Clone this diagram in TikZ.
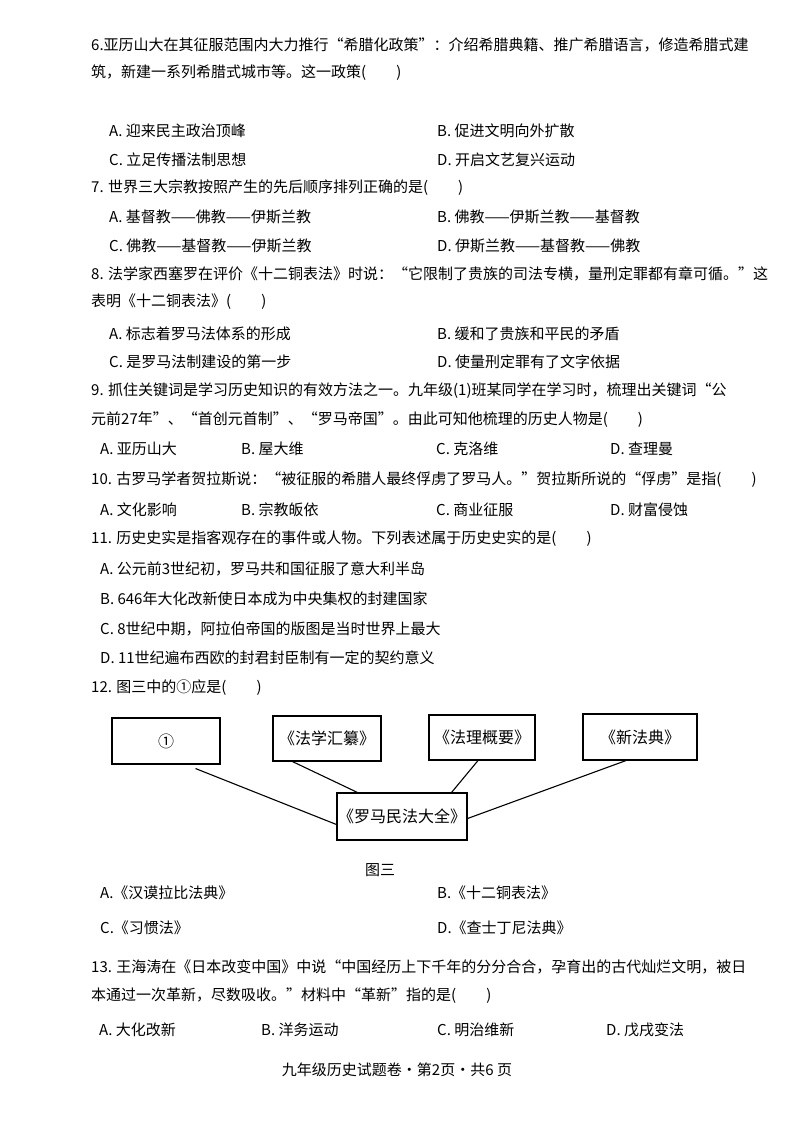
\documentclass[tikz,border=0pt]{standalone}
\usepackage{fontspec}
\setmainfont{Noto Sans CJK SC}
\begin{document}
\begin{tikzpicture}[x=1pt,y=-1pt,
  t/.style={anchor=west,inner sep=0pt,font=\fontsize{15}{15}\selectfont},
  bx/.style={draw,line width=1.1pt,inner sep=0pt,font=\fontsize{16}{16}\selectfont},
  ln/.style={line width=1.1pt}]
\useasboundingbox[fill=white] (0,0) rectangle (794,1124);
\node[t] (q6a) at (91,45) {6.亚历山大在其征服范围内大力推行“希腊化政策”：介绍希腊典籍、推广希腊语言，修造希腊式建};
\node[t] (q6b) at (91,73) {筑，新建一系列希腊式城市等。这一政策(\hspace{2em})};
\node[t] (q6A) at (109,131) {A. 迎来民主政治顶峰};
\node[t] (q6B) at (437,131) {B. 促进文明向外扩散};
\node[t] (q6C) at (109,160) {C. 立足传播法制思想};
\node[t] (q6D) at (437,160) {D. 开启文艺复兴运动};
\node[t] (q7) at (91,188) {7. 世界三大宗教按照产生的先后顺序排列正确的是(\hspace{2em})};
\node[t] (q7A) at (109,217) {A. 基督教——佛教——伊斯兰教};
\node[t] (q7B) at (437,217) {B. 佛教——伊斯兰教——基督教};
\node[t] (q7C) at (109,246) {C. 佛教——基督教——伊斯兰教};
\node[t] (q7D) at (437,246) {D. 伊斯兰教——基督教——佛教};
\node[t] (q8a) at (91,274) {8. 法学家西塞罗在评价《十二铜表法》时说：“它限制了贵族的司法专横，量刑定罪都有章可循。”这};
\node[t] (q8b) at (91,302) {表明《十二铜表法》(\hspace{2em})};
\node[t] (q8A) at (109,334) {A. 标志着罗马法体系的形成};
\node[t] (q8B) at (437,334) {B. 缓和了贵族和平民的矛盾};
\node[t] (q8C) at (109,362) {C. 是罗马法制建设的第一步};
\node[t] (q8D) at (437,362) {D. 使量刑定罪有了文字依据};
\node[t] (q9a) at (91,391) {9. 抓住关键词是学习历史知识的有效方法之一。九年级(1)班某同学在学习时，梳理出关键词“公};
\node[t] (q9b) at (91,420) {元前27年”、“首创元首制”、“罗马帝国”。由此可知他梳理的历史人物是(\hspace{2em})};
\node[t] (q9A) at (100,449) {A. 亚历山大};
\node[t] (q9B) at (241,449) {B. 屋大维};
\node[t] (q9C) at (436,449) {C. 克洛维};
\node[t] (q9D) at (610,449) {D. 查理曼};
\node[t] (q10) at (91,480) {10. 古罗马学者贺拉斯说：“被征服的希腊人最终俘虏了罗马人。”贺拉斯所说的“俘虏”是指(\hspace{2em})};
\node[t] (q10A) at (100,510) {A. 文化影响};
\node[t] (q10B) at (241,510) {B. 宗教皈依};
\node[t] (q10C) at (436,510) {C. 商业征服};
\node[t] (q10D) at (610,510) {D. 财富侵蚀};
\node[t] (q11) at (91,539) {11. 历史史实是指客观存在的事件或人物。下列表述属于历史史实的是(\hspace{2em})};
\node[t] (q11A) at (100,569) {A. 公元前3世纪初，罗马共和国征服了意大利半岛};
\node[t] (q11B) at (100,599) {B. 646年大化改新使日本成为中央集权的封建国家};
\node[t] (q11C) at (100,629) {C. 8世纪中期，阿拉伯帝国的版图是当时世界上最大};
\node[t] (q11D) at (100,658) {D. 11世纪遍布西欧的封君封臣制有一定的契约意义};
\node[t] (q12) at (91,688) {12. 图三中的①应是(\hspace{2em})};
% diagram
\node[bx,minimum width=108pt,minimum height=46pt] (b1) at (166,741) {①};
\node[bx,minimum width=108pt,minimum height=45pt] (b2) at (327,738.5) {《法学汇纂》};
\node[bx,minimum width=106pt,minimum height=45pt] (b3) at (482,737.5) {《法理概要》};
\node[bx,minimum width=114pt,minimum height=46pt] (b4) at (640,737) {《新法典》};
\node[bx,minimum width=130pt,minimum height=47pt] (c) at (402,816.5) {《罗马民法大全》};
\draw[ln] ([xshift=-25pt,yshift=-4pt]b1.south east) -- ([yshift=-8pt]c.west);
\draw[ln] ([xshift=20pt]b2.south west) -- ([xshift=21pt]c.north west);
\draw[ln] ([xshift=-4pt]b3.south) -- ([xshift=-16pt]c.north east);
\draw[ln] ([xshift=-14pt]b4.south) -- ([yshift=-2pt]c.east);
\node[t] (fig) at (365,870) {图三};
\node[t] (q12A) at (100,893) {A.《汉谟拉比法典》};
\node[t] (q12B) at (437,893) {B.《十二铜表法》};
\node[t] (q12C) at (100,928) {C.《习惯法》};
\node[t] (q12D) at (437,928) {D.《查士丁尼法典》};
\node[t] (q13a) at (91,967) {13. 王海涛在《日本改变中国》中说“中国经历上下千年的分分合合，孕育出的古代灿烂文明，被日};
\node[t] (q13b) at (91,996) {本通过一次革新，尽数吸收。”材料中“革新”指的是(\hspace{2em})};
\node[t] (q13A) at (99,1030) {A.\ 大化改新};
\node[t] (q13B) at (261,1030) {B.\ 洋务运动};
\node[t] (q13C) at (437,1030) {C.\ 明治维新};
\node[t] (q13D) at (606,1030) {D.\ 戊戌变法};
\node[t,anchor=center] (foot) at (397,1070) {九年级历史试题卷·第2页·共6 页};
\end{tikzpicture}
\end{document}
